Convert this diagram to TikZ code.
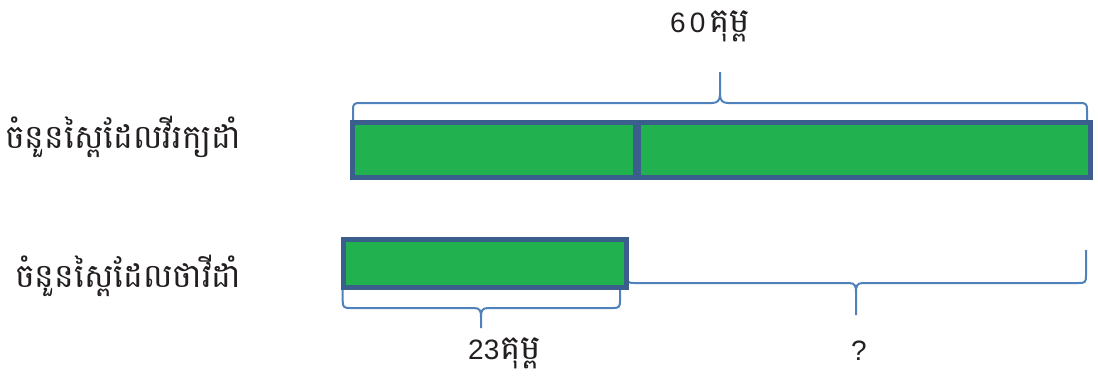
\documentclass[tikz,border=0pt]{standalone}
\usepackage{fontspec}
\setmainfont{Liberation Sans}
\newfontfamily\khmer[Script=Khmer]{Battambang}
\definecolor{barfill}{HTML}{21B14F}
\definecolor{barline}{HTML}{3A5F8D}
\definecolor{bracecol}{HTML}{4F81BD}
\definecolor{txt}{HTML}{231F20}
\newcommand\kh[1]{{\khmer\fontsize{34}{37}\selectfont #1}}
\begin{document}
\begin{tikzpicture}[x=1pt,y=-1pt,
  bar/.style={draw=barline,fill=barfill,line width=5pt,rectangle,inner sep=0pt,outer sep=0pt},
  bracepath/.style={draw=bracecol,line width=2pt,line join=round},
  lbl/.style={text=txt,inner sep=0pt,font=\fontsize{28}{32}\selectfont},
  side/.style={text=txt,inner sep=0pt,font=\khmer\fontsize{33}{36}\selectfont,anchor=base west}]
\useasboundingbox (0,0) rectangle (1098,376);
% braces
\draw[bracepath] (353,120) -- (353,110) .. controls (353,104) and (354,103) .. (360,103) -- (712,103) .. controls (718,103) and (720,100) .. (720,94) -- (720,72);
\draw[bracepath] (720,94) .. controls (720,100) and (722,103) .. (728,103) -- (1080,103) .. controls (1086,103) and (1087,104) .. (1087,110) -- (1087,120);
\draw[bracepath] (342.7,288) -- (342.7,301) .. controls (342.7,307) and (344,308) .. (350,308) -- (474,308) .. controls (480,308) and (481,311) .. (481,317) -- (481,328);
\draw[bracepath] (481,317) .. controls (481,311) and (482,308) .. (488,308) -- (613,308) .. controls (619,308) and (620,307) .. (620,301) -- (620,288);
\draw[bracepath] (627,250) -- (627,276) .. controls (627,282) and (628,283) .. (634,283) -- (849,283) .. controls (855,283) and (856,286) .. (856,292) -- (856,315);
\draw[bracepath] (856,292) .. controls (856,286) and (857,283) .. (863,283) -- (1079,283) .. controls (1085,283) and (1086,282) .. (1086,276) -- (1086,250);
% bars
\node[bar,minimum width=283.3pt,minimum height=55pt] (topA) at (494.15,150) {};
\node[bar,minimum width=452.3pt,minimum height=55pt] (topB) at (864.35,150) {};
\node[bar,minimum width=283pt,minimum height=48.3pt] (bot) at (485,263.3) {};
% labels
\node[lbl,anchor=base west] (total) at (670,32) {6\kern4pt0\kern4pt\kh{គុម្ព}};
\node[lbl,anchor=base west] (part) at (468,359) {23\kern1pt\kh{គុម្ព}};
\node[lbl,anchor=base] (q) at (859,360) {?};
\node[side] (rowA) at (5,148) {ចំនួនស្ពៃដែលវីរក្យដាំ};
\node[side] (rowB) at (15,287) {ចំនួនស្ពៃដែលថាវីដាំ};
\end{tikzpicture}
\end{document}
